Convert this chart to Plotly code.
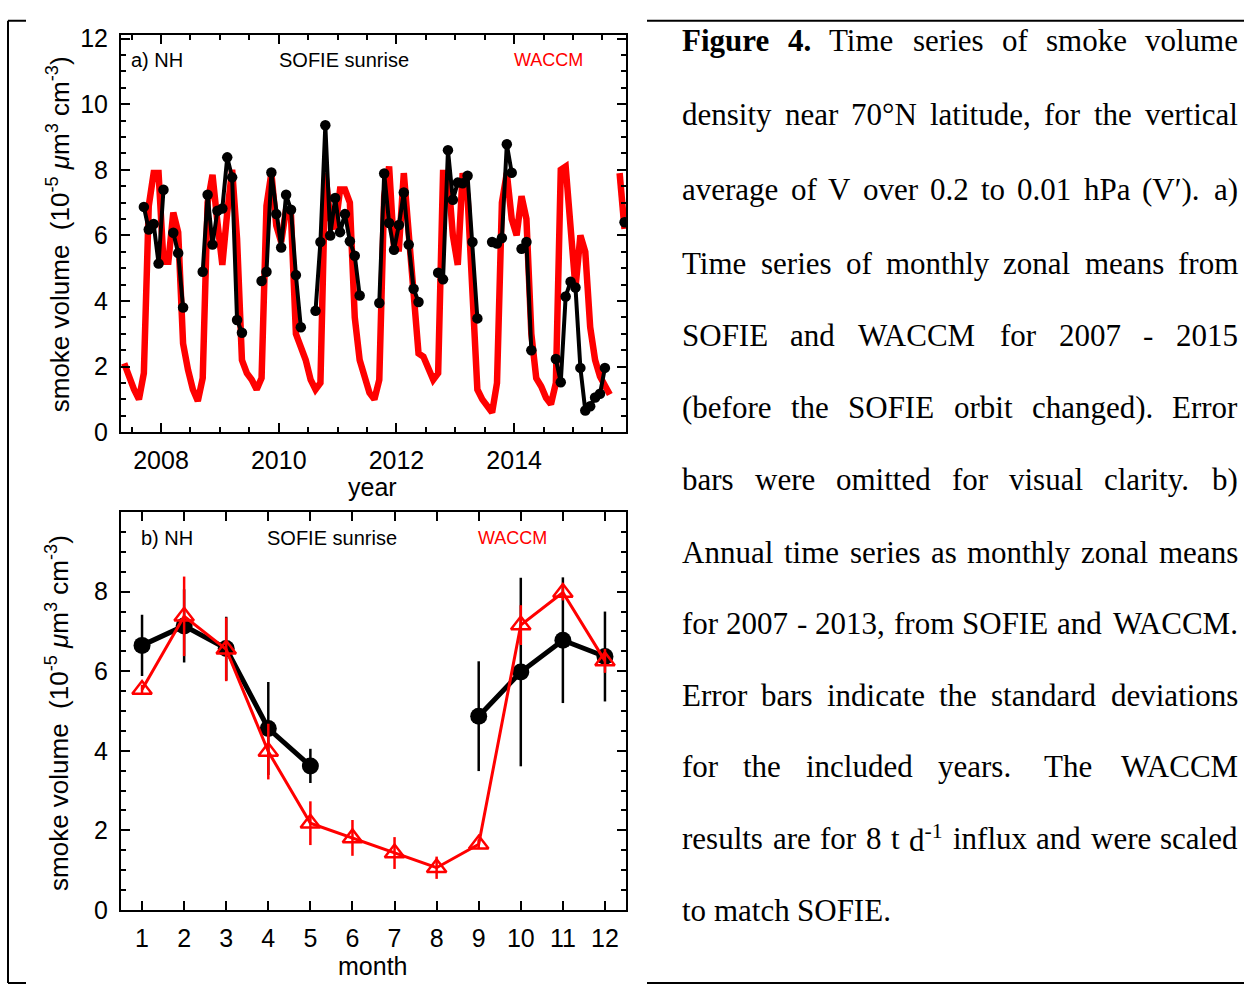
import plotly.graph_objects as go

W, H = 1244, 998

# ---------------- data: panel a (monthly time series) ----------------
sofie_months = [
    "2007-09", "2007-10", "2007-11", "2007-12", "2008-01", "2008-03", "2008-04", "2008-05",
    "2008-09", "2008-10", "2008-11", "2008-12", "2009-01", "2009-02", "2009-03", "2009-04", "2009-05",
    "2009-09", "2009-10", "2009-11", "2009-12", "2010-01", "2010-02", "2010-03", "2010-04", "2010-05",
    "2010-08", "2010-09", "2010-10", "2010-11", "2010-12", "2011-01", "2011-02", "2011-03", "2011-04", "2011-05",
    "2011-09", "2011-10", "2011-11", "2011-12", "2012-01", "2012-02", "2012-03", "2012-04", "2012-05",
    "2012-09", "2012-10", "2012-11", "2012-12", "2013-01", "2013-02", "2013-03", "2013-04", "2013-05",
    "2013-08", "2013-09", "2013-10", "2013-11", "2013-12", "2014-02", "2014-03", "2014-04",
    "2014-09", "2014-10", "2014-11", "2014-12", "2015-01", "2015-02", "2015-03", "2015-04", "2015-05",
    "2015-06", "2015-07",
    "2015-11",
]
sofie_values = [
    6.87, 6.18, 6.35, 5.14, 7.39, 6.08, 5.46, 3.80,
    4.89, 7.24, 5.72, 6.75, 6.82, 8.38, 7.77, 3.42, 3.03,
    4.61, 4.89, 7.92, 6.65, 5.63, 7.24, 6.78, 4.79, 3.20,
    3.70, 5.80, 9.36, 6.00, 7.14, 6.10, 6.65, 5.82, 5.38, 4.17,
    3.94, 7.89, 6.38, 5.56, 6.32, 7.31, 5.72, 4.37, 3.97,
    4.86, 4.66, 8.60, 7.09, 7.61, 7.59, 7.82, 5.80, 3.47,
    5.80, 5.75, 5.92, 8.78, 7.91, 5.59, 5.80, 2.50,
    2.23, 1.52, 4.14, 4.59, 4.41, 1.96, 0.66, 0.79, 1.06,
    1.17, 1.96,
    6.40,
]

waccm_first_month = "2007-05"
waccm_values = [
    2.1, 1.65, 1.3, 1.0, 1.8, 6.9, 7.9, 7.9,                      # 2007 May-Dec
    5.2, 5.2, 6.7, 6.1, 2.7, 1.9, 1.3, 0.95, 1.65, 7.0, 7.85, 6.4,  # 2008
    5.1, 6.7, 8.0, 5.9, 2.2, 1.8, 1.6, 1.3, 1.65, 6.9, 7.9, 6.3,    # 2009
    5.8, 6.8, 6.6, 3.0, 2.6, 2.2, 1.6, 1.3, 1.5, 7.9, 6.5, 6.2,     # 2010
    7.4, 7.4, 7.0, 3.5, 2.2, 1.6, 1.2, 1.0, 1.6, 7.2, 8.1, 5.6,     # 2011
    5.6, 7.9, 6.0, 4.0, 2.4, 2.3, 2.0, 1.6, 1.8, 7.9, 7.9, 6.0,     # 2012
    5.1, 7.9, 7.2, 4.6, 1.3, 1.0, 0.8, 0.6, 1.5, 7.0, 7.9, 6.5,     # 2013
    6.0, 7.2, 6.5, 3.0, 1.65, 1.4, 1.05, 0.85, 1.5, 8.0, 8.1, 6.3,  # 2014
    4.4, 6.0, 5.5, 3.2, 2.2, 1.7, 1.4, 1.15, None, 7.9, 6.2,        # 2015 Jan-Nov
]

year_ticks = [2008, 2010, 2012, 2014]

# ---------------- data: panel b (annual cycle) ----------------
months = list(range(1, 13))
sofie_clim = [6.65, 7.14, 6.57, 4.56, 3.62, None, None, None, 4.87, 5.98, 6.78, 6.37]
sofie_clim_err = [0.77, 0.92, 0.80, 1.17, 0.43, None, None, None, 1.38, 2.37, 1.58, 1.13]
waccm_clim = [5.54, 7.38, 6.55, 3.98, 2.18, 1.81, 1.43, 1.06, 1.65, 7.16, 7.98, 6.26]
waccm_clim_err = [0.12, 1.00, 0.80, 0.70, 0.55, 0.45, 0.40, 0.28, 0.12, 0.50, 0.20, 0.30]

RED = "rgb(255,0,0)"
SANS = "Liberation Sans"
SERIF = "Liberation Serif"


def dec_year(ym):
    y, m = ym.split("-")
    return int(y) + (int(m) - 0.5) / 12.0


def month_index(ym):
    y, m = ym.split("-")
    return int(y) * 12 + int(m) - 1


# SOFIE: break the line where months are missing
sx, sy = [], []
prev = None
for ym, v in zip(sofie_months, sofie_values):
    idx = month_index(ym)
    if prev is not None and idx - prev > 1:
        sx.append(None)
        sy.append(None)
    sx.append(dec_year(ym))
    sy.append(v)
    prev = idx

w0 = month_index(waccm_first_month)
wx = [(w0 + i) // 12 + ((w0 + i) % 12 + 0.5) / 12.0 for i in range(len(waccm_values))]


def fx(p):
    return p / W


def fy(p):
    return 1 - p / H


fig = go.Figure()

# panel a
fig.add_trace(go.Scatter(x=wx, y=waccm_values, mode="lines", line=dict(color=RED, width=6.5),
                         connectgaps=False, xaxis="x", yaxis="y", showlegend=False))
fig.add_trace(go.Scatter(x=sx, y=sy, mode="lines+markers", line=dict(color="black", width=4),
                         marker=dict(color="black", size=10.5), connectgaps=False,
                         xaxis="x", yaxis="y", showlegend=False))

# panel b
fig.add_trace(go.Scatter(x=months, y=sofie_clim, mode="lines+markers",
                         line=dict(color="black", width=5),
                         marker=dict(color="black", size=17, symbol="circle"),
                         error_y=dict(type="data", array=sofie_clim_err, color="black",
                                      thickness=2.5, width=0),
                         connectgaps=False, xaxis="x2", yaxis="y2", showlegend=False))
fig.add_trace(go.Scatter(x=months, y=waccm_clim, mode="lines+markers",
                         line=dict(color=RED, width=3),
                         marker=dict(color=RED, size=17, symbol="triangle-up-open",
                                     line=dict(color=RED, width=2.5)),
                         error_y=dict(type="data", array=waccm_clim_err, color=RED,
                                      thickness=2.5, width=0),
                         xaxis="x2", yaxis="y2", showlegend=False))

axis_common = dict(showline=True, linewidth=2, linecolor="black", mirror="allticks",
                   ticks="inside", ticklen=9, tickwidth=2, tickcolor="black",
                   showgrid=False, zeroline=False,
                   tickfont=dict(family=SANS, size=25, color="black"))
minor_common = dict(ticks="inside", ticklen=5, tickwidth=2, tickcolor="black", showgrid=False)

fig.update_layout(
    width=W, height=H, autosize=False,
    margin=dict(l=0, r=0, t=0, b=0),
    paper_bgcolor="white", plot_bgcolor="white",
    xaxis=dict(domain=[fx(121), fx(626)], range=[2007.32, 2015.90], anchor="y",
               tickmode="array", tickvals=year_ticks, ticktext=[str(t) for t in year_ticks],
               ticklabelstandoff=5,
               minor=dict(tickmode="linear", tick0=2007.5, dtick=0.5, **minor_common),
               **axis_common),
    yaxis=dict(domain=[fy(432), fy(25)], range=[0, 12.1], anchor="x",
               tickmode="array", tickvals=[0, 2, 4, 6, 8, 10, 12],
               ticklabelstandoff=6,
               minor=dict(tickmode="linear", tick0=0, dtick=0.5, **minor_common),
               **axis_common),
    xaxis2=dict(domain=[fx(121), fx(626)], range=[0.5, 12.5], anchor="y2",
                tickmode="array", tickvals=months, ticktext=[str(m) for m in months],
                ticklabelstandoff=5,
                **axis_common),
    yaxis2=dict(domain=[fy(922), fy(514)], range=[0, 10], anchor="x2",
                tickmode="array", tickvals=[0, 2, 4, 6, 8],
                ticklabelstandoff=6,
                minor=dict(tickmode="linear", tick0=0, dtick=0.5, **minor_common),
                **axis_common),
)

ann = []


def add_text(x, y, text, size, color="black", family=SANS, xanchor="left", angle=0):
    ann.append(dict(x=fx(x), y=fy(y), xref="paper", yref="paper", text=text, showarrow=False,
                    xanchor=xanchor, yanchor="middle", textangle=angle,
                    font=dict(family=family, size=size, color=color),
                    borderpad=0, borderwidth=0))


# panel labels
add_text(131, 50, "a) NH", 20)
add_text(279, 50, "SOFIE sunrise", 20)
add_text(514, 50, "WACCM", 18, RED)
add_text(141, 541, "b) NH", 20)
add_text(267, 541, "SOFIE sunrise", 20)
add_text(478, 541, "WACCM", 18, RED)

ytitle = "smoke volume  (10<sup>-5</sup> <i>μ</i>m<sup>3</sup> cm<sup>-3</sup>)"
add_text(58, 229, ytitle, 26, xanchor="center", angle=-90)
add_text(58, 720, ytitle, 26, xanchor="center", angle=-90)
add_text(372, 488, "year", 25, xanchor="center")
add_text(372, 980, "month", 25, xanchor="center")

# ---------------- caption (justified text, Times metrics) ----------------
REG = {" ": 250, "!": 333, "(": 333, ")": 333, ",": 250, "-": 333, ".": 250, "°": 400, "′": 275,
       "0": 500, "1": 500, "2": 500, "3": 500, "4": 500, "5": 500, "6": 500, "7": 500, "8": 500, "9": 500,
       "A": 722, "B": 667, "C": 667, "D": 722, "E": 611, "F": 556, "G": 722, "H": 722, "I": 333,
       "J": 389, "K": 722, "L": 611, "M": 889, "N": 722, "O": 722, "P": 556, "Q": 722, "R": 667,
       "S": 556, "T": 611, "U": 722, "V": 722, "W": 944, "X": 722, "Y": 722, "Z": 611,
       "a": 444, "b": 500, "c": 444, "d": 500, "e": 444, "f": 333, "g": 500, "h": 500, "i": 278,
       "j": 278, "k": 500, "l": 278, "m": 778, "n": 500, "o": 500, "p": 500, "q": 500, "r": 333,
       "s": 389, "t": 278, "u": 500, "v": 500, "w": 722, "x": 500, "y": 500, "z": 444}
BOLD = {"F": 611, "i": 278, "g": 500, "u": 556, "r": 444, "e": 444, "4": 500, ".": 250, " ": 250}


def em_width(tok):
    bold, scale, total, i = False, 1.0, 0.0, 0
    while i < len(tok):
        for tag, act in (("<b>", "b1"), ("</b>", "b0"), ("<sup>", "s1"), ("</sup>", "s0")):
            if tok.startswith(tag, i):
                if act == "b1":
                    bold = True
                elif act == "b0":
                    bold = False
                elif act == "s1":
                    scale = 0.7
                else:
                    scale = 1.0
                i += len(tag)
                break
        else:
            ch = tok[i]
            table = BOLD if bold else REG
            total += table.get(ch, REG.get(ch, 500)) * scale
            i += 1
    return total / 1000.0


caption_lines = [
    "<b>Figure</b> <b>4.</b> Time series of smoke volume",
    "density near 70°N latitude, for the vertical",
    "average of V over 0.2 to 0.01 hPa (V′). a)",
    "Time series of monthly zonal means from",
    "SOFIE and WACCM for 2007 - 2015",
    "(before the SOFIE orbit changed). Error",
    "bars were omitted for visual clarity. b)",
    "Annual time series as monthly zonal means",
    "for 2007 - 2013, from SOFIE and WACCM.",
    "Error bars indicate the standard deviations",
    "for the included years.  The WACCM",
    "results are for 8 t d<sup>-1</sup> influx and were scaled",
    "to match SOFIE.",
]
caption_y = [30, 106, 183, 259, 333, 407, 481, 555, 628, 702, 775, 849, 923]
CAP_SIZE = 31
CAP_L, CAP_R = 682, 1238

for li, (line, yy) in enumerate(zip(caption_lines, caption_y)):
    words, extra = [], []
    for tok in line.split(" "):
        if tok == "":
            extra[-1] += 1
        else:
            words.append(tok)
            extra.append(0)
    widths = [em_width(w) * CAP_SIZE for w in words]
    space = 0.25 * CAP_SIZE
    justify = li < len(caption_lines) - 1
    ngap = len(words) - 1
    if justify and ngap > 0:
        natural_extra = sum(extra[:-1]) * space
        gap = (CAP_R - CAP_L - sum(widths) - natural_extra) / ngap
    else:
        gap = space
    x = CAP_L
    for k, (w, wd) in enumerate(zip(words, widths)):
        if justify and k == len(words) - 1 and k > 0:
            add_text(CAP_R, yy, w, CAP_SIZE, family=SERIF, xanchor="right")
        else:
            add_text(x, yy, w, CAP_SIZE, family=SERIF, xanchor="left")
        x += wd + gap + extra[k] * space

fig.update_layout(annotations=ann)

# outer frame lines
frame = [(8, 10, 8, 997), (8, 10, 26, 10), (8, 997, 26, 997), (647, 10, 1244, 10), (647, 997, 1244, 997)]
fig.update_layout(shapes=[dict(type="line", xref="paper", yref="paper",
                               x0=fx(a), y0=fy(b), x1=fx(c), y1=fy(d),
                               line=dict(color="black", width=2)) for a, b, c, d in frame])

fig.write_html("out.html")
